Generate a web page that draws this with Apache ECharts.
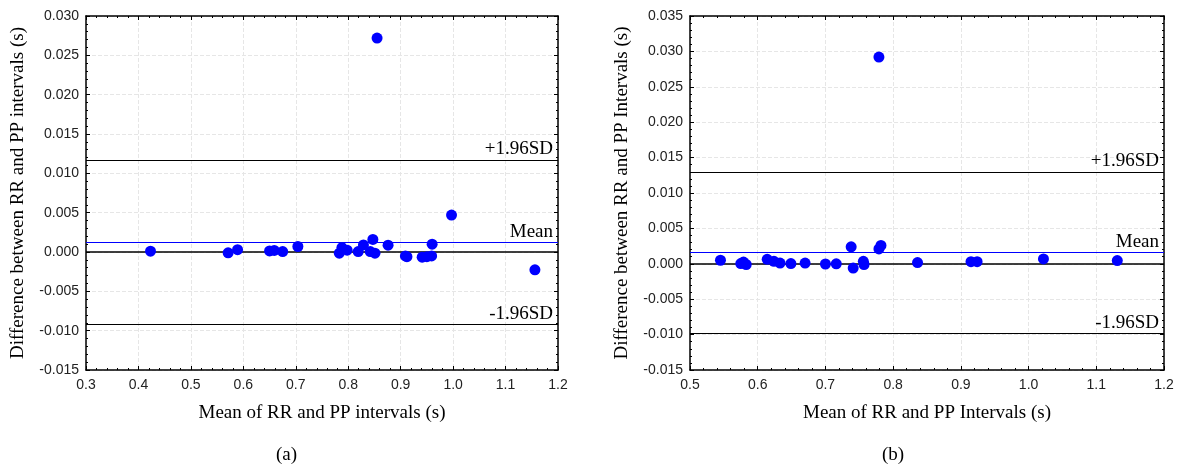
<!DOCTYPE html>
<html><head><meta charset="utf-8">
<script src="https://cdn.jsdelivr.net/npm/echarts@6/dist/echarts.min.js"></script>
<style>html,body{margin:0;padding:0;background:#fff}#c{width:1177px;height:470px}</style>
</head><body><div id="c"></div>
<script>
// Panel (a)
const aX = [0.423,0.571,0.589,0.650,0.659,0.675,0.704,0.783,0.788,0.798,0.819,0.829,0.847,0.842,0.851,0.876,0.855,0.909,0.912,0.941,0.950,0.959,0.960,0.997,1.156];
const aY = [0.0001,-0.0001,0.0003,0.00014,0.0002,0.00005,0.0007,-0.00015,0.00056,0.00023,0.00005,0.0009,0.0016,0.00005,-0.00015,0.00086,0.0272,-0.0005,-0.0006,-0.00066,-0.0006,-0.0005,0.001,0.0047,-0.00227];
const aLines = {upper:0.0117, mean:0.00125, zero:0, lower:-0.0092};
// Panel (b)
const bX = [0.545,0.575,0.579,0.583,0.614,0.624,0.633,0.649,0.670,0.700,0.716,0.738,0.741,0.756,0.757,0.779,0.782,0.779,0.836,0.915,0.924,1.022,1.131];
const bY = [0.0005,0.00003,0.00025,-0.0001,0.00063,0.00035,0.0001,0.00003,0.0001,-0.00003,0,0.0024,-0.0006,0.00035,-0.0001,0.0021,0.0026,0.0292,0.00017,0.0003,0.0003,0.00068,0.00045];
const bLines = {upper:0.0130, mean:0.0016, zero:0, lower:-0.0098};

const serif = '"Liberation Serif","Times New Roman",serif';
const sans = '"Liberation Sans",Arial,sans-serif';

function pts(xs, ys){ return xs.map((x,i)=>[x, ys[i]]); }

function xAx(grid, min, max, name, pos){
  const bottom = pos === 'bottom';
  return {
    type:'value', gridIndex:grid, position:pos, min:min, max:max, interval:0.1,
    name: bottom ? name : '', nameLocation:'middle', nameGap:34,
    nameTextStyle:{fontFamily:serif, fontSize:19, color:'#000'},
    axisLine:{show:true, onZero:false, lineStyle:{color:'#000', width:1.5}},
    axisTick:{show:true, inside:true, length:4, lineStyle:{color:'#000'}},
    minorTick:{show:true, splitNumber:5, length:2, lineStyle:{color:'#000'}},
    axisLabel:{show:bottom, fontFamily:sans, fontSize:14, color:'#222', margin:8,
      formatter:v=>v.toFixed(1)},
    splitLine:{show:bottom, lineStyle:{color:'#e6e6e6', type:'dashed'}}
  };
}
function yAx(grid, min, max, name, pos, gap){
  const left = pos === 'left';
  return {
    type:'value', gridIndex:grid, position:pos, min:min, max:max, interval:0.005,
    name: left ? name : '', nameLocation:'middle', nameGap:gap,
    nameTextStyle:{fontFamily:serif, fontSize:19, color:'#000'},
    axisLine:{show:true, onZero:false, lineStyle:{color:'#000', width:1.5}},
    axisTick:{show:true, inside:true, length:4, lineStyle:{color:'#000'}},
    minorTick:{show:true, splitNumber:5, length:2, lineStyle:{color:'#000'}},
    axisLabel:{show:left, fontFamily:sans, fontSize:14, color:'#222', margin:7,
      formatter:v=>(Math.abs(v)<1e-9?0:v).toFixed(3)},
    splitLine:{show:left, lineStyle:{color:'#e6e6e6', type:'dashed'}}
  };
}
function mline(L){
  const lab = (t)=>({show:true, position:'insideEndTop', formatter:t, fontFamily:serif, fontSize:19, color:'#000', distance:[5,1]});
  return {
    silent:true, symbol:['none','none'], precision:6,
    data:[
      {yAxis:L.upper, lineStyle:{color:'#000', width:1.2, type:'solid'}, label:lab('+1.96SD')},
      {yAxis:L.mean, lineStyle:{color:'#0000ff', width:1.2, type:'solid'}, label:lab('Mean')},
      {yAxis:L.zero, lineStyle:{color:'#000', width:1.5, type:'solid'}, label:{show:false}},
      {yAxis:L.lower, lineStyle:{color:'#000', width:1.2, type:'solid'}, label:lab('-1.96SD')}
    ]
  };
}

const chart = echarts.init(document.getElementById('c'), null, {renderer:'canvas'});
chart.setOption({
  animation:false,
  backgroundColor:'#fff',
  grid:[
    {left:86, right:619, top:16, bottom:100},
    {left:690, right:13, top:16, bottom:100}
  ],
  xAxis:[
    xAx(0,0.3,1.2,'Mean of RR and PP intervals (s)','bottom'),
    xAx(0,0.3,1.2,'','top'),
    xAx(1,0.5,1.2,'Mean of RR and PP Intervals (s)','bottom'),
    xAx(1,0.5,1.2,'','top')
  ],
  yAxis:[
    yAx(0,-0.015,0.030,'Difference between RR and PP intervals (s)','left',58),
    yAx(0,-0.015,0.030,'','right',0),
    yAx(1,-0.015,0.035,'Difference between RR and PP Intervals (s)','left',58),
    yAx(1,-0.015,0.035,'','right',0)
  ],
  series:[
    {type:'scatter', xAxisIndex:0, yAxisIndex:0, data:pts(aX,aY), symbolSize:11,
      itemStyle:{color:'#0000ff', opacity:1}, markLine:mline(aLines), z:5},
    {type:'scatter', xAxisIndex:2, yAxisIndex:2, data:pts(bX,bY), symbolSize:11,
      itemStyle:{color:'#0000ff', opacity:1}, markLine:mline(bLines), z:5}
  ],
  graphic:[
    {type:'text', left:276, top:446, style:{text:'(a)', font:'19px '+serif, fill:'#000'}},
    {type:'text', left:882, top:446, style:{text:'(b)', font:'19px '+serif, fill:'#000'}}
  ]
});
</script></body></html>
